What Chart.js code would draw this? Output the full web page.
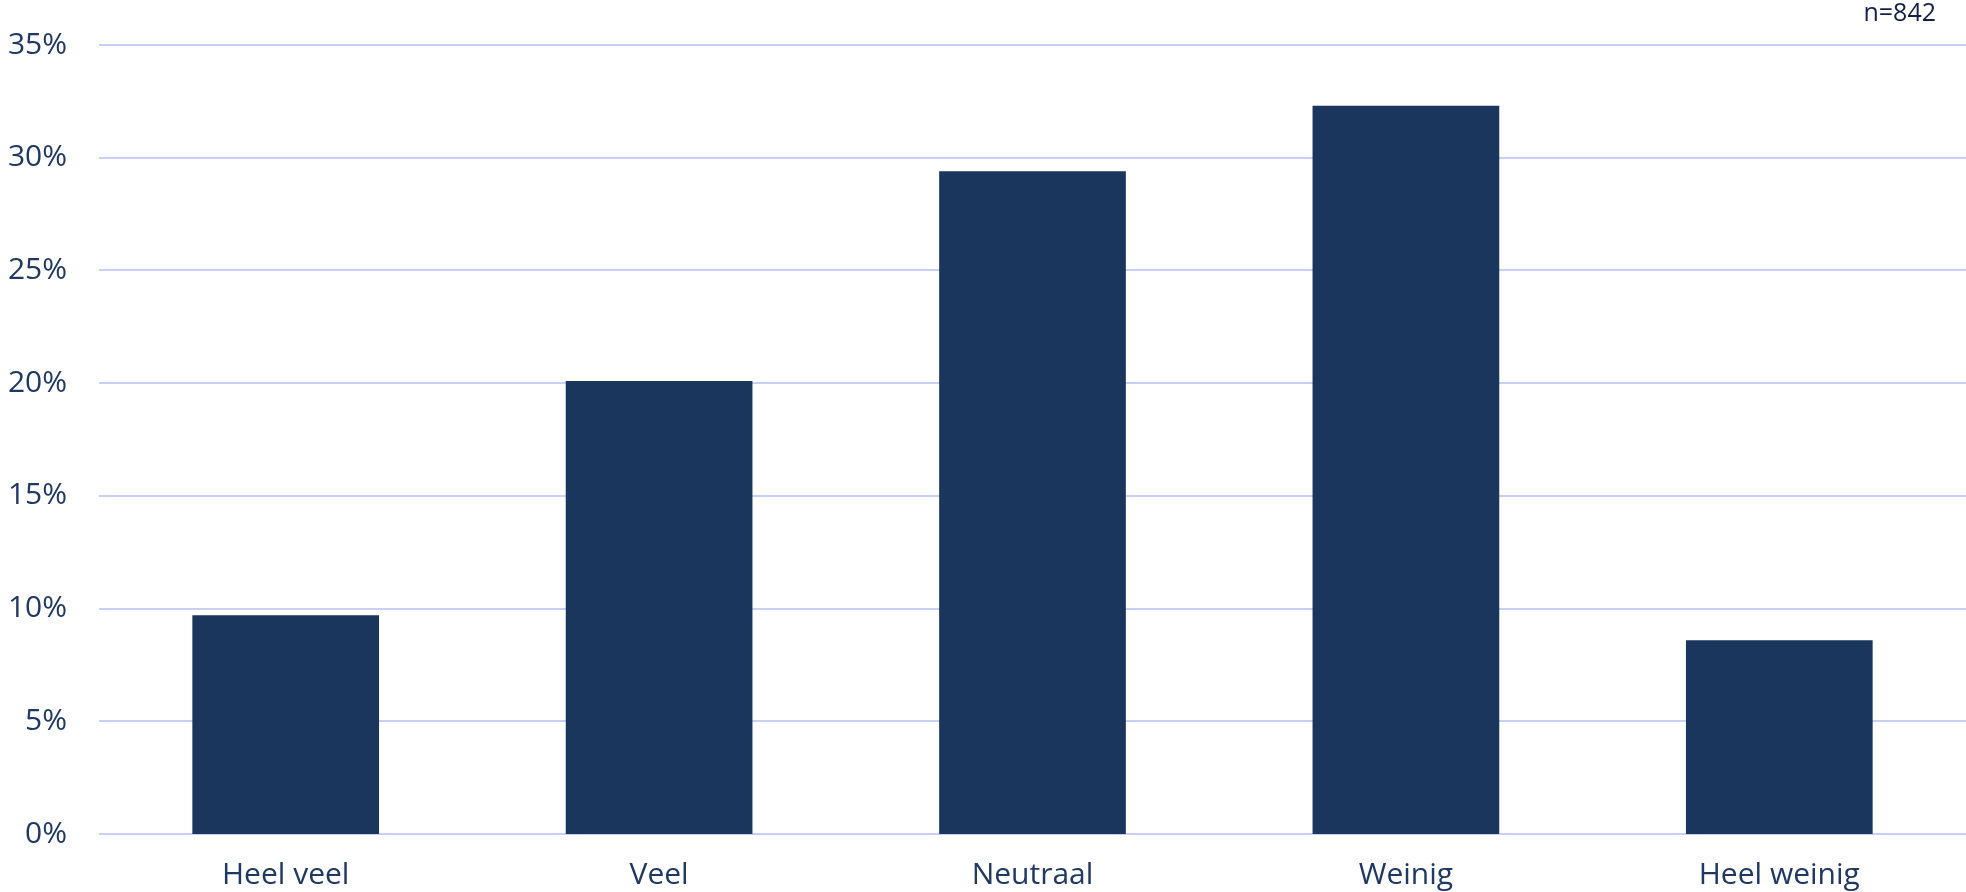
<!DOCTYPE html>
<html>
<head>
<meta charset="utf-8">
<script src="https://cdn.jsdelivr.net/npm/chart.js@4"></script>
<style>
    body { margin: 0; background: #ffffff; }
    #wrap { width: 1966px; height: 892px; }
</style>
</head>
<body>
<div id="wrap"><canvas id="chart"></canvas></div>
<script>
// categorieën en waarden (in %)
const categories = ['Heel veel', 'Veel', 'Neutraal', 'Weinig', 'Heel weinig'];
const percentages = [9.7, 20.1, 29.4, 32.3, 8.6];
const yTicks = [0, 5, 10, 15, 20, 25, 30, 35];
const sampleNote = 'n=842';

const textColor = '#1f3864';
const barColor = '#1b365d';
const gridColor = '#c8d0f5';
const labelFont = '30px "Open Sans"';

// rasterlijnen binnen het grafiekvlak, via de y-schaal
const gridPlugin = {
    id: 'grid',
    beforeDatasetsDraw(chart) {
        const ctx = chart.ctx;
        const y = chart.scales.y;
        const area = chart.chartArea;
        ctx.save();
        ctx.strokeStyle = gridColor;
        ctx.lineWidth = 2;
        y.ticks.forEach(t => {
            const py = Math.round(y.getPixelForValue(t.value));
            ctx.beginPath();
            ctx.moveTo(area.left, py);
            ctx.lineTo(area.right, py);
            ctx.stroke();
        });
        ctx.restore();
    }
};

// y-labels via de schaal, en n=842 rechtsboven
const labelPlugin = {
    id: 'labels',
    afterDraw(chart) {
        const ctx = chart.ctx;
        const y = chart.scales.y;
        ctx.save();
        ctx.font = labelFont;
        ctx.fillStyle = textColor;
        ctx.textAlign = 'right';
        ctx.textBaseline = 'middle';
        y.ticks.forEach(t => {
            ctx.fillText(t.value + '%', chart.chartArea.left - 32, y.getPixelForValue(t.value));
        });
        ctx.font = '25px "Open Sans"';
        ctx.fillStyle = '#13204a';
        ctx.fillText(sampleNote, chart.chartArea.right - 30, 14);
        ctx.restore();
    }
};

const ctx = document.getElementById('chart').getContext('2d');
const chart = new Chart(ctx, {
    type: 'bar',
    data: {
        labels: categories,
        datasets: [{
            data: percentages,
            backgroundColor: barColor,
            borderWidth: 0,
            categoryPercentage: 1.0,
            barPercentage: 0.5
        }]
    },
    options: {
        responsive: true,
        maintainAspectRatio: false,
        animation: false,
        layout: {
            padding: { top: 45, left: 91, right: 0, bottom: 0 }
        },
        plugins: {
            legend: { display: false },
            tooltip: { enabled: false }
        },
        scales: {
            x: {
                grid: { display: false },
                border: { display: false },
                afterFit(axis) {
                    axis.height = 58;
                    axis.paddingLeft = 0;
                    axis.paddingRight = 0;
                },
                ticks: {
                    color: textColor,
                    font: { family: '"Open Sans"', size: 30 },
                    padding: 15
                }
            },
            y: {
                min: 0,
                max: 35,
                afterBuildTicks(axis) {
                    axis.ticks = yTicks.map(v => ({ value: v }));
                },
                grid: { display: false },
                border: { display: false },
                ticks: { display: false }
            }
        }
    },
    plugins: [gridPlugin, labelPlugin]
});
</script>
</body>
</html>
